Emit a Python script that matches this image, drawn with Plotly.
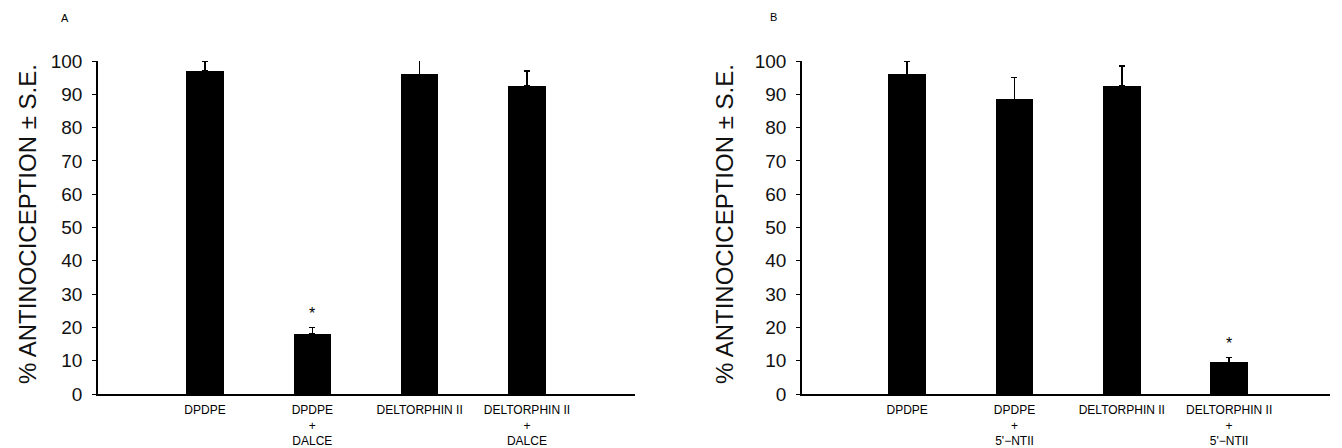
import plotly.graph_objects as go

# ---- data ----
categories_a = ["DPDPE", "DPDPE<br>+<br>DALCE", "DELTORPHIN II", "DELTORPHIN II<br>+<br>DALCE"]
values_a = [97, 18, 96, 92.5]
errors_a = [3, 2, 4.5, 4.5]
signif_a = [False, True, False, False]

categories_b = ["DPDPE", "DPDPE<br>+<br>5'\u2212NTII", "DELTORPHIN II", "DELTORPHIN II<br>+<br>5'\u2212NTII"]
values_b = [96, 88.5, 92.5, 9.5]
errors_b = [4, 6.5, 6, 1.5]
signif_b = [False, False, False, True]

y_ticks = list(range(0, 101, 10))
y_title = "% ANTINOCICEPTION \u00b1 S.E."

W, H = 1342, 448
def px_x(p):
    return p / W
def px_y(p):
    return 1 - p / H

AX_FONT = dict(family="Liberation Sans, Arial, sans-serif", size=19, color="#111")
CAT_FONT = dict(family="Liberation Sans, Arial, sans-serif", size=12, color="#000")

fig = go.Figure()

panels = [
    ("x", "y", categories_a, values_a, errors_a, signif_a),
    ("x2", "y2", categories_b, values_b, errors_b, signif_b),
]
for xa, ya, cats, vals, errs, sig in panels:
    idx = list(range(len(cats)))
    fig.add_trace(go.Bar(
        x=idx, y=vals, xaxis=xa, yaxis=ya, width=0.35,
        marker=dict(color="#000", line=dict(width=0)),
        error_y=dict(type="data", array=errs, arrayminus=[0] * len(errs),
                     symmetric=False, color="#000", thickness=1.5, width=3),
        showlegend=False, hoverinfo="skip",
    ))
    for i, s in enumerate(sig):
        if s:
            fig.add_annotation(x=i, y=vals[i] + errs[i], xref=xa, yref=ya,
                               text="*", showarrow=False, yanchor="bottom",
                               yshift=3, font=dict(family="Liberation Sans", size=16, color="#000"))

ydom = [px_y(394), px_y(61)]
common_x = dict(showline=True, linecolor="#000", linewidth=1.5, showgrid=False,
                zeroline=False, ticks="", tickvals=[0, 1, 2, 3], tickfont=CAT_FONT,
                ticklabelstandoff=4, automargin=False)
common_y = dict(showline=True, linecolor="#000", linewidth=1.5, showgrid=False,
                zeroline=False, ticks="outside", ticklen=4, tickwidth=1, tickcolor="#000",
                tickvals=y_ticks, range=[0, 100], tickfont=AX_FONT, ticklabelstandoff=6,
                domain=ydom, automargin=False)

fig.update_layout(
    width=W, height=H,
    margin=dict(l=0, r=0, t=0, b=0, pad=0, autoexpand=False),
    paper_bgcolor="white", plot_bgcolor="white",
    bargap=0,
    xaxis=dict(common_x, domain=[px_x(98), px_x(635)], range=[-0.997, 4.007],
               ticktext=categories_a, anchor="y"),
    yaxis=dict(common_y, anchor="x"),
    xaxis2=dict(common_x, domain=[px_x(802), px_x(1330)], range=[-0.98, 3.94],
                ticktext=categories_b, anchor="y2"),
    yaxis2=dict(common_y, anchor="x2"),
)

# panel letters and rotated y titles
fig.add_annotation(x=px_x(65), y=px_y(18), xref="paper", yref="paper", text="A",
                   xanchor="center", yanchor="middle",
                   showarrow=False, font=dict(family="Liberation Sans", size=11, color="#000"))
fig.add_annotation(x=px_x(773), y=px_y(17), xref="paper", yref="paper", text="B",
                   xanchor="center", yanchor="middle",
                   showarrow=False, font=dict(family="Liberation Sans", size=11, color="#000"))
for xc in (27, 724):
    fig.add_annotation(x=px_x(xc), y=px_y(224), xref="paper", yref="paper", text=y_title,
                       textangle=-90, showarrow=False, xanchor="center", yanchor="middle",
                       font=dict(family="Liberation Sans, Arial, sans-serif", size=24, color="#111"))

fig.write_html("out.html", config={"displayModeBar": False},
               post_script="document.body.style.margin='0';document.body.style.overflow='hidden';")
